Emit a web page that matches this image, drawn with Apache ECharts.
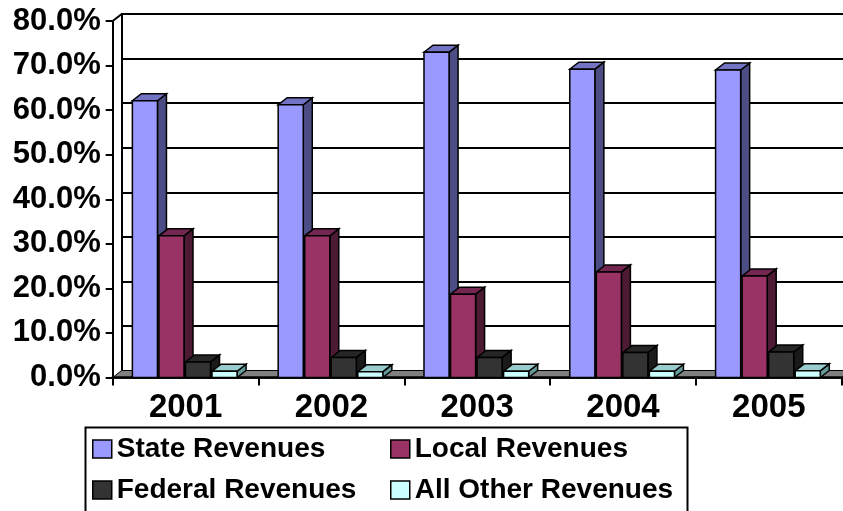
<!DOCTYPE html>
<html>
<head>
<meta charset="utf-8">
<script src="https://cdn.jsdelivr.net/npm/echarts@6/dist/echarts.min.js"></script>
<style>html,body{margin:0;padding:0;background:#fff}#c{width:843px;height:511px}</style>
</head>
<body>
<div id="c"></div>
<script>
const categories = ['2001', '2002', '2003', '2004', '2005'];
const stateRevenues = [62.1, 61.2, 73.0, 69.2, 69.0];
const localRevenues = [31.8, 31.8, 18.7, 23.7, 22.8];
const federalRevenues = [3.5, 4.5, 4.5, 5.6, 5.7];
const otherRevenues = [1.4, 1.3, 1.4, 1.4, 1.5];
const seriesNames = ['State Revenues', 'Local Revenues', 'Federal Revenues', 'All Other Revenues'];
const yMin = 0, yMax = 80, yStep = 10;

const FONT = "'Liberation Sans', Arial, sans-serif";
const DX = 9, DY = 7;
const palettes = [
  { front: '#9999FF', side: '#4D4D85', top: '#7373C4' },
  { front: '#993366', side: '#4D1A33', top: '#732650' },
  { front: '#333333', side: '#1A1A1A', top: '#262626' },
  { front: '#CCFFFF', side: '#669999', top: '#99CCCC' }
];

function barRenderer(idx) {
  const pal = palettes[idx];
  return function (params, api) {
    const cat = api.value(0), val = api.value(1);
    const top = api.coord([cat, val]);
    const base = api.coord([cat, 0]);
    const band = api.size([1, 0])[0];
    const pitch = band * 0.182, w = band * 0.172;
    const x0 = top[0] - band * 0.365 + idx * pitch;
    const x1 = x0 + w;
    const yt = top[1], yb = base[1];
    const stroke = { stroke: '#000', lineWidth: 1.5, lineJoin: 'miter' };
    return {
      type: 'group',
      children: [
        { type: 'polygon', shape: { points: [[x1, yt], [x1 + DX, yt - DY], [x1 + DX, yb - DY], [x1, yb]] },
          style: Object.assign({ fill: pal.side }, stroke) },
        { type: 'polygon', shape: { points: [[x0, yt], [x1, yt], [x1 + DX, yt - DY], [x0 + DX, yt - DY]] },
          style: Object.assign({ fill: pal.top }, stroke) },
        { type: 'rect', shape: { x: x0, y: yt, width: w, height: yb - yt },
          style: Object.assign({ fill: pal.front }, stroke) }
      ]
    };
  };
}

function decorRenderer(params, api) {
  const cs = params.coordSys;
  const xl = cs.x, xr = cs.x + cs.width + DX + 20, yt = cs.y, yb = cs.y + cs.height;
  return {
    type: 'group',
    children: [
      { type: 'polygon', shape: { points: [[xl, yb], [xr, yb], [xr, yb - DY], [xl + DX, yb - DY]] },
        style: { fill: '#808080', stroke: '#000', lineWidth: 1 } },
      { type: 'line', shape: { x1: xl, y1: yt, x2: xl + DX, y2: yt - DY },
        style: { stroke: '#000', lineWidth: 2 } },
      { type: 'line', shape: { x1: xl, y1: yb, x2: cs.x + cs.width + 5, y2: yb },
        style: { stroke: '#000', lineWidth: 2.5 } }
    ]
  };
}

const allValues = [stateRevenues, localRevenues, federalRevenues, otherRevenues];

const chart = echarts.init(document.getElementById('c'), null, { renderer: 'canvas' });
chart.setOption({
  animation: false,
  backgroundColor: '#fff',
  textStyle: { fontFamily: FONT },
  grid: [
    { left: 112.7, top: 21, width: 729, height: 356.5 },
    { left: 121.7, top: 14, width: 729, height: 356.5 }
  ],
  xAxis: [
    { type: 'category', gridIndex: 0, data: categories, boundaryGap: true,
      axisLine: { show: true, lineStyle: { color: '#000', width: 2.5 } },
      axisTick: { show: true, length: 8, interval: 0, lineStyle: { color: '#000', width: 2 } },
      axisLabel: { color: '#000', fontSize: 33, fontWeight: 'bold', fontFamily: FONT, margin: 14, interval: 0 },
      splitLine: { show: false } },
    { type: 'category', gridIndex: 1, data: categories, show: false }
  ],
  yAxis: [
    { type: 'value', gridIndex: 0, min: yMin, max: yMax, interval: yStep,
      axisLine: { show: true, lineStyle: { color: '#000', width: 2 } },
      axisTick: { show: true, length: 7, lineStyle: { color: '#000', width: 2 } },
      axisLabel: { color: '#000', fontSize: 31, fontWeight: 'bold', fontFamily: FONT, margin: 12,
        formatter: v => v.toFixed(1) + '%' },
      splitLine: { show: false } },
    { type: 'value', gridIndex: 1, min: yMin, max: yMax, interval: yStep,
      axisLine: { show: true, lineStyle: { color: '#000', width: 2 } },
      axisTick: { show: false }, axisLabel: { show: false },
      splitLine: { show: true, lineStyle: { color: '#000', width: 2 } } }
  ],
  legend: [
    { orient: 'vertical', left: 92, top: 435, padding: 0, itemGap: 13, itemWidth: 19, itemHeight: 18, icon: 'rect',
      data: [seriesNames[0], seriesNames[2]],
      itemStyle: { borderColor: '#000', borderWidth: 1.5 },
      textStyle: { color: '#000', fontSize: 28, fontWeight: 'bold', fontFamily: FONT, padding: [0, 0, 0, 0] } },
    { orient: 'vertical', left: 390, top: 435, padding: 0, itemGap: 13, itemWidth: 19, itemHeight: 18, icon: 'rect',
      data: [seriesNames[1], seriesNames[3]],
      itemStyle: { borderColor: '#000', borderWidth: 1.5 },
      textStyle: { color: '#000', fontSize: 28, fontWeight: 'bold', fontFamily: FONT, padding: [0, 0, 0, 0] } }
  ],
  graphic: [
    { type: 'rect', left: 83, top: 425, shape: { width: 602, height: 100 },
      style: { fill: 'none', stroke: '#000', lineWidth: 2 }, z: 10 }
  ],
  series: [
    { type: 'custom', name: '_decor', xAxisIndex: 0, yAxisIndex: 0, z: 1, silent: true,
      renderItem: decorRenderer, data: [[0, 0]], clip: false }
  ].concat(allValues.map((vals, i) => ({
    type: 'custom', name: seriesNames[i], xAxisIndex: 0, yAxisIndex: 0, z: 2 + i,
    itemStyle: { color: palettes[i].front },
    renderItem: barRenderer(i), clip: false,
    encode: { x: 0, y: 1 },
    data: vals.map((v, j) => [j, v])
  })))
});
</script>
</body>
</html>
